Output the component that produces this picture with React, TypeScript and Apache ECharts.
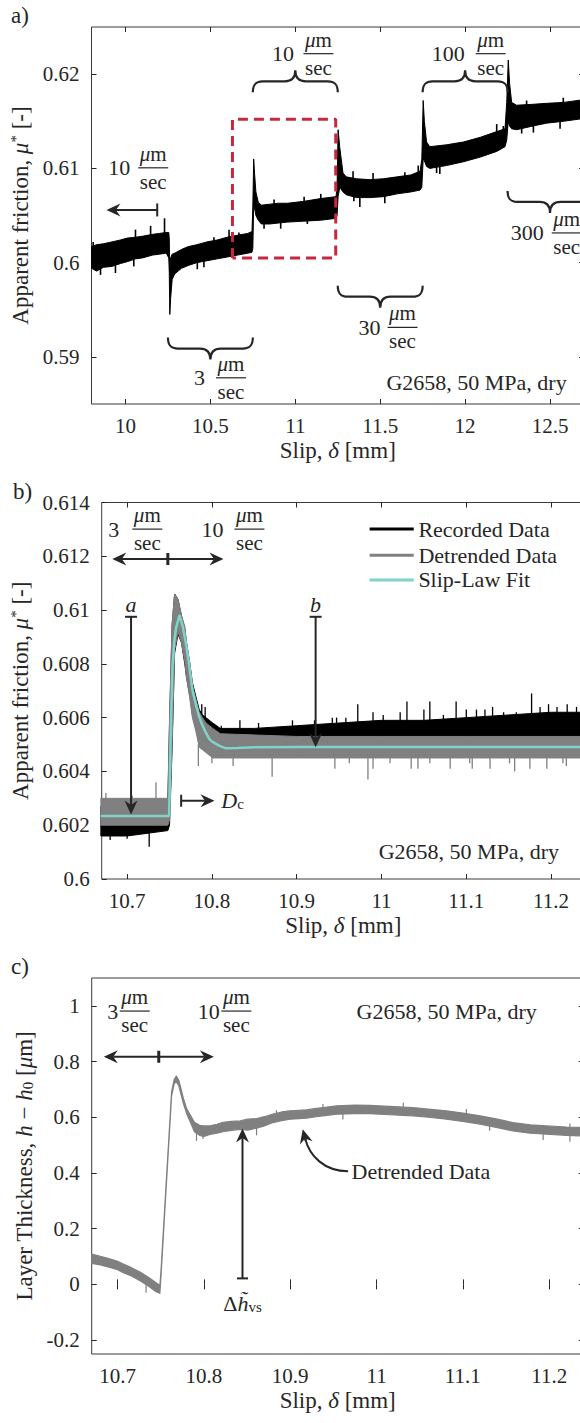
import { useEffect, useRef } from 'react';
import * as echarts from 'echarts';

const FONT = 'Liberation Serif, Times New Roman, serif';
const INK = '#262626';
const FS = 21;
const FN = 23;
const FA = 22;
const GRAY = '#808080';
const CYAN = '#7fd3c8';
const RED = '#c8283c';

// ---------- tick labels ----------
const aSlipTicks = [10, 10.5, 11, 11.5, 12, 12.5];
const aMuTicks = [0.59, 0.6, 0.61, 0.62];
const bSlipTicks = [10.7, 10.8, 10.9, 11, 11.1, 11.2];
const bMuTicks = [0.6, 0.602, 0.604, 0.606, 0.608, 0.61, 0.612, 0.614];
const cSlipTicks = [10.7, 10.8, 10.9, 11, 11.1, 11.2];
const cThickTicks = [-0.2, 0, 0.2, 0.4, 0.6, 0.8, 1];

// ---------- panel a: recorded friction (noise envelope low / high) ----------
const aSlip = [9.8, 9.83, 9.87, 9.92, 9.97, 10.01, 10.06, 10.1, 10.16, 10.2, 10.24, 10.255, 10.258, 10.261, 10.266, 10.275, 10.29, 10.33, 10.37, 10.42, 10.48, 10.54, 10.6, 10.66, 10.72, 10.745, 10.75, 10.755, 10.76, 10.768, 10.782, 10.8, 10.85, 10.9, 10.955, 11.05, 11.15, 11.24, 11.246, 11.252, 11.262, 11.281, 11.3, 11.36, 11.44, 11.52, 11.6, 11.68, 11.735, 11.745, 11.753, 11.76, 11.773, 11.792, 11.89, 11.99, 12.09, 12.186, 12.235, 12.245, 12.254, 12.262, 12.274, 12.303, 12.4, 12.48, 12.58, 12.7];
const aMuLow = [0.5994, 0.5991, 0.5995, 0.5996, 0.5999, 0.6001, 0.6004, 0.6005, 0.6008, 0.6009, 0.601, 0.6005, 0.599, 0.5945, 0.5962, 0.5982, 0.5988, 0.5994, 0.5997, 0.6, 0.6002, 0.6004, 0.6006, 0.6008, 0.601, 0.6011, 0.6015, 0.606, 0.6058, 0.605, 0.6045, 0.6041, 0.6041, 0.6042, 0.6043, 0.6044, 0.6045, 0.6047, 0.605, 0.607, 0.608, 0.6075, 0.6072, 0.6069, 0.6069, 0.607, 0.6073, 0.6075, 0.6077, 0.608, 0.611, 0.6108, 0.6102, 0.61, 0.6103, 0.6107, 0.6112, 0.6118, 0.6123, 0.613, 0.615, 0.6145, 0.6142, 0.6141, 0.6145, 0.6148, 0.615, 0.6153];
const aMuHigh = [0.6017, 0.6019, 0.602, 0.6022, 0.6024, 0.6026, 0.6027, 0.6028, 0.603, 0.6031, 0.6032, 0.6032, 0.6025, 0.599, 0.6005, 0.6009, 0.601, 0.6014, 0.6017, 0.6019, 0.6022, 0.6024, 0.6027, 0.6029, 0.6031, 0.6033, 0.606, 0.611, 0.6095, 0.6075, 0.6064, 0.6061, 0.6062, 0.6063, 0.6063, 0.6065, 0.6068, 0.607, 0.608, 0.6141, 0.6122, 0.6095, 0.6091, 0.6089, 0.6088, 0.6089, 0.6091, 0.6093, 0.6097, 0.611, 0.6172, 0.615, 0.6128, 0.6123, 0.6125, 0.6128, 0.6133, 0.6139, 0.6142, 0.617, 0.6215, 0.619, 0.617, 0.6167, 0.6168, 0.6169, 0.617, 0.6173];
// individual noise spikes: [slip, from, to]
const aSpikes = [
  [9.81, 0.6012, 0.6022], [10.059, 0.602, 0.6035], [10.148, 0.6022, 0.6039], [10.23, 0.6024, 0.6047], [10.521, 0.6018, 0.6027], [10.61, 0.602, 0.6035], [10.668, 0.6022, 0.6032], [10.875, 0.6055, 0.6067], [11.052, 0.6058, 0.607], [11.15, 0.606, 0.6073], [11.34, 0.6085, 0.6097], [11.458, 0.6082, 0.6095], [11.645, 0.6085, 0.6096], [11.724, 0.6088, 0.6103], [12.186, 0.6132, 0.6147], [12.225, 0.6135, 0.6145], [12.362, 0.616, 0.6172], [12.578, 0.6163, 0.6175],
  [9.853, 0.6, 0.5987], [9.941, 0.6003, 0.5989], [10.049, 0.6008, 0.5996], [10.423, 0.6005, 0.5993], [10.462, 0.6007, 0.5995], [10.816, 0.6048, 0.6036], [10.914, 0.605, 0.6036], [11.071, 0.6052, 0.6041], [11.345, 0.6075, 0.6065], [11.38, 0.6075, 0.6059], [11.527, 0.6076, 0.6063], [11.832, 0.6106, 0.6095], [11.851, 0.6106, 0.6094], [12.333, 0.6148, 0.6137], [12.402, 0.615, 0.6138], [12.559, 0.6153, 0.6142],
];
// zoom window shown in b
const boxSlip = [10.63, 10.63, 11.238, 11.238, 10.63];
const boxMu = [0.6005, 0.6152, 0.6152, 0.6005, 0.6005];

// ---------- panel b ----------
const bRecSlip = [10.669, 10.7, 10.748, 10.75, 10.753, 10.756, 10.76, 10.764, 10.768, 10.77, 10.774, 10.777, 10.781, 10.785, 10.789, 10.793, 10.801, 10.81, 10.85, 10.9, 10.95, 11.0, 11.05, 11.1, 11.15, 11.2, 11.24];
const bRecLow = [0.6016, 0.6016, 0.6018, 0.602, 0.6048, 0.6084, 0.6091, 0.6088, 0.608, 0.6075, 0.6068, 0.6061, 0.6056, 0.6051, 0.605, 0.6049, 0.6048, 0.6047, 0.6047, 0.6047, 0.6048, 0.6049, 0.6049, 0.605, 0.605, 0.6051, 0.6051];
const bRecHigh = [0.6027, 0.6027, 0.6029, 0.6058, 0.6094, 0.6106, 0.6104, 0.6098, 0.6093, 0.6088, 0.608, 0.6073, 0.6068, 0.6063, 0.6061, 0.606, 0.6058, 0.6056, 0.6056, 0.6057, 0.6058, 0.6059, 0.6059, 0.606, 0.6061, 0.6062, 0.6062];
const bRecSpikes = [
  [10.788, 0.6058, 0.6065], [10.792, 0.6058, 0.6064], [10.811, 0.6054, 0.6057], [10.833, 0.6054, 0.6059], [10.855, 0.6054, 0.6058], [10.895, 0.6055, 0.6059], [10.921, 0.6055, 0.6059], [10.942, 0.6056, 0.606], [10.947, 0.6056, 0.606], [10.958, 0.6056, 0.606],
  [10.972, 0.6056, 0.6065], [10.99, 0.6057, 0.6062], [11.002, 0.6057, 0.6061], [11.022, 0.6057, 0.6062], [11.03, 0.6057, 0.6066], [11.05, 0.6057, 0.6063], [11.057, 0.6057, 0.6066], [11.073, 0.6058, 0.6061], [11.088, 0.6058, 0.6066], [11.1, 0.6058, 0.6063], [11.112, 0.6058, 0.6063], [11.122, 0.6059, 0.6063], [11.131, 0.6059, 0.6064], [11.144, 0.6059, 0.6062], [11.159, 0.6059, 0.6062], [11.177, 0.6059, 0.6069], [11.187, 0.606, 0.6064], [11.197, 0.606, 0.6065], [11.207, 0.606, 0.6064], [11.219, 0.606, 0.6065], [11.23, 0.606, 0.6064],
  [10.68, 0.6018, 0.60145], [10.7, 0.6018, 0.6015], [10.726, 0.6018, 0.6012],
];
const bDetSlip = [10.669, 10.748, 10.75, 10.753, 10.756, 10.76, 10.764, 10.768, 10.77, 10.774, 10.777, 10.781, 10.785, 10.789, 10.793, 10.801, 10.81, 10.9, 11.0, 11.1, 11.24];
const bDetLow = [0.602, 0.602, 0.6022, 0.605, 0.6085, 0.6092, 0.6088, 0.6081, 0.6075, 0.6067, 0.606, 0.6055, 0.6049, 0.6048, 0.6047, 0.6045, 0.6045, 0.6045, 0.6045, 0.6045, 0.6045];
const bDetHigh = [0.603, 0.603, 0.606, 0.6095, 0.6106, 0.6104, 0.6098, 0.6094, 0.6088, 0.608, 0.6072, 0.6067, 0.6062, 0.606, 0.6058, 0.6056, 0.6054, 0.6053, 0.6053, 0.6053, 0.6053];
const bDetSpikes = [
  [10.675, 0.6028, 0.6032], [10.706, 0.6028, 0.6031], [10.734, 0.6028, 0.6036],
  [10.784, 0.605, 0.6042], [10.8, 0.6047, 0.6043], [10.825, 0.6047, 0.6042], [10.871, 0.6047, 0.6038], [10.945, 0.6047, 0.6041], [10.962, 0.6047, 0.6043], [10.984, 0.6047, 0.6037], [10.99, 0.6047, 0.6041], [11.01, 0.6047, 0.6043], [11.035, 0.6047, 0.6041], [11.043, 0.6047, 0.6041], [11.057, 0.6047, 0.6043], [11.081, 0.6047, 0.6041], [11.104, 0.6047, 0.6043], [11.107, 0.6047, 0.6041], [11.128, 0.6047, 0.6041], [11.151, 0.6047, 0.6043], [11.157, 0.6047, 0.604], [11.175, 0.6047, 0.6041], [11.195, 0.6047, 0.6041], [11.214, 0.6047, 0.6043], [11.218, 0.6047, 0.6042],
];
const bFitSlip = [10.669, 10.7495, 10.7515, 10.7535, 10.7555, 10.7575, 10.7617, 10.7655, 10.7693, 10.773, 10.777, 10.781, 10.785, 10.789, 10.793, 10.797, 10.8007, 10.809, 10.8166, 10.83, 10.85, 10.9, 11.24];
const bFitMu = [0.60234, 0.60234, 0.6055, 0.6079, 0.6088, 0.6093, 0.60981, 0.6094, 0.60877, 0.608, 0.60703, 0.6065, 0.60603, 0.6057, 0.60543, 0.6052, 0.6051, 0.60495, 0.60486, 0.60487, 0.6049, 0.60491, 0.60491];

// ---------- panel c: detrended layer thickness (noise envelope) ----------
const cSlip = [10.67, 10.68, 10.691, 10.7, 10.706, 10.716, 10.726, 10.736, 10.745, 10.749, 10.7505, 10.7625, 10.7655, 10.768, 10.771, 10.776, 10.78, 10.784, 10.789, 10.795, 10.8, 10.807, 10.815, 10.822, 10.832, 10.842, 10.851, 10.861, 10.87, 10.88, 10.89, 10.9, 10.91, 10.919, 10.928, 10.938, 10.954, 10.975, 10.992, 11.015, 11.042, 11.06, 11.081, 11.1, 11.12, 11.14, 11.158, 11.178, 11.197, 11.22, 11.24];
const cThickLow = [0.075, 0.07, 0.061, 0.053, 0.043, 0.03, 0.013, -0.007, -0.027, -0.032, 0.04, 0.675, 0.72, 0.728, 0.712, 0.652, 0.613, 0.585, 0.548, 0.535, 0.531, 0.538, 0.543, 0.548, 0.553, 0.556, 0.554, 0.561, 0.569, 0.581, 0.588, 0.593, 0.595, 0.597, 0.601, 0.605, 0.611, 0.613, 0.613, 0.609, 0.605, 0.6, 0.593, 0.585, 0.575, 0.563, 0.551, 0.543, 0.539, 0.535, 0.533];
const cThickHigh = [0.109, 0.101, 0.092, 0.083, 0.074, 0.06, 0.044, 0.025, 0.005, -0.004, 0.06, 0.69, 0.735, 0.748, 0.732, 0.67, 0.631, 0.609, 0.582, 0.571, 0.569, 0.569, 0.575, 0.582, 0.585, 0.587, 0.593, 0.595, 0.602, 0.611, 0.619, 0.623, 0.625, 0.627, 0.631, 0.635, 0.641, 0.644, 0.643, 0.639, 0.635, 0.629, 0.623, 0.615, 0.605, 0.593, 0.581, 0.573, 0.569, 0.565, 0.563];
const cSpikes = [
  [10.884, 0.605, 0.625], [10.938, 0.625, 0.648], [11.031, 0.632, 0.652], [11.104, 0.61, 0.63], [11.224, 0.56, 0.578],
  [10.733, 0.0, -0.03], [10.7914, 0.545, 0.515], [10.799, 0.54, 0.522], [10.861, 0.565, 0.535], [10.961, 0.615, 0.592], [11.131, 0.585, 0.552], [11.193, 0.54, 0.518], [11.224, 0.54, 0.512],
];

// ---------- annotation anchors (data units) ----------
const aSpeeds = [
  { slip: 10.075, mu: 0.61006, num: '10', gap: 8 },
  { slip: 11.048, mu: 0.62217, num: '10', gap: 9.5 },
  { slip: 12.062, mu: 0.62217, num: '100', gap: 11 },
  { slip: 10.533, mu: 0.58778, num: '3', gap: 11 },
  { slip: 11.543, mu: 0.59313, num: '30', gap: 7 },
  { slip: 12.51, mu: 0.60315, num: '300', gap: 8 },
];
const aBraces = [
  { from: 10.75, to: 11.25, tip: 0.6204, up: true },
  { from: 11.75, to: 12.25, tip: 0.6204, up: true },
  { from: 10.25, to: 10.75, tip: 0.58971, up: false },
  { from: 11.25, to: 11.75, tip: 0.59522, up: false },
  { from: 12.25, to: 12.75, tip: 0.60527, up: false },
];

const LAYOUT = [
  { left: 91.5, top: 27, width: 492.5, height: 377, xMin: 9.8, xMax: 12.7, yMin: 0.585, yMax: 0.625, yGap: 56, xT: aSlipTicks, yT: aMuTicks, yName: 'Apparent friction, {i|μ}{sup|*} [-]' },
  { left: 101.7, top: 502.5, width: 483.3, height: 376.5, xMin: 10.67, xMax: 11.24, yMin: 0.6, yMax: 0.614, yGap: 69, xT: bSlipTicks, yT: bMuTicks, yName: 'Apparent friction, {i|μ}{sup|*} [-]' },
  { left: 91.7, top: 978, width: 492, height: 376, xMin: 10.67, xMax: 11.24, yMin: -0.25, yMax: 1.1, yGap: 53, xT: cSlipTicks, yT: cThickTicks, yName: 'Layer Thickness, {i|h} \u2212 {i|h}{sub|0} [{i|μ}m]' },
];

const fmt = (v: number) => String(parseFloat(Number(v).toFixed(4)));

const RICH_OPT = {
  i: { fontStyle: 'italic', fontFamily: FONT, fontSize: FN, color: INK },
  sup: { fontFamily: FONT, fontSize: 15, color: INK, verticalAlign: 'top' },
  sub: { fontFamily: FONT, fontSize: 15, color: INK, verticalAlign: 'bottom' },
};
const richG = (fs: number) => ({
  i: { fontStyle: 'italic', fontFamily: FONT, fontSize: fs, fill: INK },
  sup: { fontFamily: FONT, fontSize: 14, fill: INK, verticalAlign: 'top' },
  sub: { fontFamily: FONT, fontSize: 15, fill: INK, verticalAlign: 'bottom' },
});

const BRACE_W = 85;
const BRACE_D = 'M0,22 C0,14 3,11 10,11 L32,11 C38.5,11 42.5,8 42.5,0 C42.5,8 46.5,11 53,11 L75,11 C82,11 85,14 85,22';
let braceRegistered = false;
function ensureBrace() {
  if (braceRegistered) return;
  echarts.graphic.registerShape('brace', echarts.graphic.extendPath(BRACE_D, {}) as any);
  braceRegistered = true;
}

function band(g: number, xs: number[], lo: number[], hi: number[], color: string, z: number, sw: number) {
  return {
    type: 'custom', xAxisIndex: 2 * g, yAxisIndex: 2 * g, z, silent: true,
    data: [[xs[0], lo[0]]],
    renderItem: (params: any, api: any) => {
      if (params.dataIndex !== 0) return null;
      const pts: number[][] = [];
      for (let i = 0; i < xs.length; i++) pts.push(api.coord([xs[i], hi[i]]));
      for (let i = xs.length - 1; i >= 0; i--) pts.push(api.coord([xs[i], lo[i]]));
      return { type: 'polygon', shape: { points: pts }, style: { fill: color, stroke: color, lineWidth: sw, lineJoin: 'round' } };
    },
  };
}

function spikes(g: number, list: number[][], color: string, z: number, w: number) {
  return {
    type: 'custom', xAxisIndex: 2 * g, yAxisIndex: 2 * g, z, silent: true,
    data: list,
    encode: { x: 0, y: [1, 2] },
    renderItem: (params: any, api: any) => {
      const a = api.coord([api.value(0), api.value(1)]);
      const b = api.coord([api.value(0), api.value(2)]);
      return { type: 'line', shape: { x1: a[0], y1: a[1], x2: b[0], y2: b[1] }, style: { stroke: color, lineWidth: w } };
    },
  };
}

function buildOption() {
  const grid: any[] = [];
  const xAxis: any[] = [];
  const yAxis: any[] = [];
  LAYOUT.forEach((L, g) => {
    grid.push({ left: L.left, top: L.top, width: L.width, height: L.height, show: true, borderColor: '#3a3a3a', borderWidth: 1, backgroundColor: 'transparent', containLabel: false, outerBoundsMode: 'none' });
    const tick = (vals: number[]) => ({ show: true, inside: true, length: 5, customValues: vals, lineStyle: { color: INK, width: 1 } });
    const nts = { fontFamily: FONT, fontSize: FN, color: INK, rich: RICH_OPT };
    xAxis.push({
      type: 'value', gridIndex: g, position: 'bottom', min: L.xMin, max: L.xMax,
      axisLine: { show: false }, splitLine: { show: false }, axisTick: tick(L.xT),
      axisLabel: { show: true, customValues: L.xT, formatter: fmt, margin: 11, fontFamily: FONT, fontSize: FS, color: INK },
      name: 'Slip, {i|δ} [mm]', nameLocation: 'middle', nameGap: 35, nameTextStyle: nts,
    });
    xAxis.push({
      type: 'value', gridIndex: g, position: 'top', min: L.xMin, max: L.xMax,
      axisLine: { show: false }, splitLine: { show: false }, axisTick: tick(L.xT), axisLabel: { show: false },
    });
    yAxis.push({
      type: 'value', gridIndex: g, position: 'left', min: L.yMin, max: L.yMax,
      axisLine: { show: false }, splitLine: { show: false }, axisTick: tick(L.yT),
      axisLabel: { show: true, customValues: L.yT, formatter: fmt, margin: 12, fontFamily: FONT, fontSize: FS, color: INK },
      name: L.yName, nameLocation: 'middle', nameGap: L.yGap, nameTextStyle: nts,
    });
    yAxis.push({
      type: 'value', gridIndex: g, position: 'right', min: L.yMin, max: L.yMax,
      axisLine: { show: false }, splitLine: { show: false }, axisTick: tick(L.yT), axisLabel: { show: false },
    });
  });

  const series: any[] = [
    band(0, aSlip, aMuLow, aMuHigh, '#000000', 2, 1),
    spikes(0, aSpikes, '#000000', 2, 1.6),
    {
      type: 'line', xAxisIndex: 0, yAxisIndex: 0, z: 5, silent: true, symbol: 'none',
      data: boxSlip.map((x, i) => [x, boxMu[i]]),
      lineStyle: { color: RED, width: 3, type: [10, 6] },
    },
    band(1, bRecSlip, bRecLow, bRecHigh, '#000000', 2, 1),
    spikes(1, bRecSpikes, '#000000', 2, 1.3),
    band(1, bDetSlip, bDetLow, bDetHigh, GRAY, 3, 1),
    spikes(1, bDetSpikes, GRAY, 3, 1.3),
    {
      type: 'line', xAxisIndex: 2, yAxisIndex: 2, z: 4, silent: true, symbol: 'none',
      data: bFitSlip.map((x, i) => [x, bFitMu[i]]),
      lineStyle: { color: CYAN, width: 2.5 },
    },
    band(2, cSlip, cThickLow, cThickHigh, GRAY, 2, 1.2),
    spikes(2, cSpikes, GRAY, 2, 1.2),
  ];

  return { animation: false, backgroundColor: '#ffffff', textStyle: { fontFamily: FONT }, grid, xAxis, yAxis, series };
}

type Pt = [number, number];

function buildGraphics(P: (g: number, x: number, y: number) => Pt) {
  const els: any[] = [];
  const T = (text: string, x: number, y: number, align = 'left', fs = FS) => {
    els.push({ type: 'text', x, y, silent: true, z: 100, style: { text, fill: INK, fontFamily: FONT, fontSize: fs, align, verticalAlign: 'middle', rich: richG(fs) } });
  };
  const Ln = (a: Pt, b: Pt, w = 2) => {
    els.push({ type: 'line', silent: true, z: 100, shape: { x1: a[0], y1: a[1], x2: b[0], y2: b[1] }, style: { stroke: INK, lineWidth: w } });
  };
  const AL = 14, AW = 6.5, AN = 4.5;
  const arrow = (from: Pt, tip: Pt, w = 2) => {
    const dx = tip[0] - from[0], dy = tip[1] - from[1];
    const len = Math.hypot(dx, dy);
    const ux = dx / len, uy = dy / len, px = -uy, py = ux;
    Ln(from, [tip[0] - ux * (AL - AN), tip[1] - uy * (AL - AN)], w);
    els.push({
      type: 'polygon', silent: true, z: 100,
      shape: { points: [tip, [tip[0] - ux * AL + px * AW, tip[1] - uy * AL + py * AW], [tip[0] - ux * (AL - AN), tip[1] - uy * (AL - AN)], [tip[0] - ux * AL - px * AW, tip[1] - uy * AL - py * AW]] },
      style: { fill: INK },
    });
  };
  const frac = (p: Pt, num: string, gap: number) => {
    const [x0, y0] = p; const w = 30;
    T(num, x0 - gap, y0, 'right', FA);
    T('{i|μ}m', x0 + w / 2, y0 - 14, 'center', FS);
    T('sec', x0 + w / 2, y0 + 14, 'center', FS);
    Ln([x0, y0], [x0 + w, y0], 1.2);
  };
  const doubleArrow = (g: number, y: number, x0: number, x1: number, xm: number) => {
    const m = P(g, xm, y);
    arrow(m, P(g, x0, y));
    arrow(m, P(g, x1, y));
    els.push({ type: 'rect', silent: true, z: 101, shape: { x: m[0] - 1.5, y: m[1] - 6, width: 3, height: 12 }, style: { fill: INK } });
  };

  // panel letters
  T('a)', 11, 15, 'left', 23);
  T('b)', 13, 491, 'left', 23);
  T('c)', 11, 966, 'left', 23);

  // ---- panel a ----
  aSpeeds.forEach((s) => frac(P(0, s.slip, s.mu), s.num, s.gap));
  aBraces.forEach((b) => {
    const l = P(0, b.from, b.tip), r = P(0, b.to, b.tip);
    els.push({ type: 'brace', silent: true, z: 100, x: l[0], y: l[1], scaleX: (r[0] - l[0]) / BRACE_W, scaleY: b.up ? 1 : -1, style: { stroke: INK, fill: 'none', lineWidth: 2.2 } });
  });
  {
    const bar = P(0, 10.187, 0.60559), tip = P(0, 9.888, 0.60559);
    arrow(bar, tip);
    Ln([bar[0], bar[1] - 6.5], [bar[0], bar[1] + 6.5], 2);
  }
  {
    const p = P(0, 12.598, 0.58728);
    T('G2658, 50 MPa, dry', p[0], p[1], 'right', FA);
  }

  // ---- panel b ----
  const legend = [
    { label: 'Recorded Data', color: '#000000', mu: 0.61301 },
    { label: 'Detrended Data', color: GRAY, mu: 0.61204 },
    { label: 'Slip-Law Fit', color: CYAN, mu: 0.61112 },
  ];
  legend.forEach((l) => {
    const a = P(1, 10.986, l.mu), b = P(1, 11.038, l.mu), t = P(1, 11.0435, l.mu);
    els.push({ type: 'line', silent: true, z: 100, shape: { x1: a[0], y1: a[1], x2: b[0], y2: b[1] }, style: { stroke: l.color, lineWidth: 3 } });
    T(l.label, t[0], t[1], 'left', FA);
  });
  frac(P(1, 10.7061, 0.61301), '3', 13);
  frac(P(1, 10.8266, 0.61301), '10', 11);
  doubleArrow(1, 0.6119, 10.6825, 10.8136, 10.748);
  [{ s: 10.7046, tip: 0.6024, lab: 'a' }, { s: 10.9223, tip: 0.6049, lab: 'b' }].forEach((q) => {
    const top = P(1, q.s, 0.60975), tip = P(1, q.s, q.tip);
    arrow(top, tip);
    Ln([top[0] - 6, top[1]], [top[0] + 6, top[1]], 2);
    T('{i|' + q.lab + '}', top[0], top[1] - 12, 'center', FA);
  });
  {
    const bar = P(1, 10.7637, 0.60291), tip = P(1, 10.803, 0.60291);
    arrow(bar, tip);
    Ln([bar[0], bar[1] - 6], [bar[0], bar[1] + 6], 2);
    const t = P(1, 10.811, 0.60291);
    T('{i|D}{sub|c}', t[0], t[1], 'left', FA);
  }
  {
    const p = P(1, 11.2093, 0.60101);
    T('G2658, 50 MPa, dry', p[0], p[1], 'right', FA);
  }

  // ---- panel c ----
  frac(P(2, 10.7025, 0.9813), '3', 1.5);
  frac(P(2, 10.8202, 0.9813), '10', 1.5);
  doubleArrow(2, 0.8172, 10.684, 10.8115, 10.7477);
  {
    const bot = P(2, 10.8447, 0.0215), tip = P(2, 10.8447, 0.56);
    arrow(bot, tip);
    Ln([bot[0] - 5.5, bot[1]], [bot[0] + 5.5, bot[1]], 2);
    const lab = P(2, 10.8447, -0.0675);
    T('Δ{i|h̃}{sub|vs}', lab[0], lab[1], 'center', FA);
  }
  {
    const start = P(2, 10.967, 0.4063), tip = P(2, 10.9145, 0.557);
    const ux = -0.25, uy = -0.97;
    const end: Pt = [tip[0] - ux * 9.5, tip[1] - uy * 9.5];
    els.push({ type: 'bezierCurve', silent: true, z: 100, shape: { x1: start[0], y1: start[1], cpx1: start[0] - 24, cpy1: start[1], cpx2: end[0] - ux * 18, cpy2: end[1] - uy * 18, x2: end[0], y2: end[1] }, style: { stroke: INK, lineWidth: 2, fill: 'none' } });
    arrow([tip[0] - ux * 12, tip[1] - uy * 12], tip);
    const t = P(2, 10.971, 0.4043);
    T('Detrended Data', t[0], t[1], 'left', FA);
  }
  {
    const p = P(2, 11.1857, 0.9788);
    T('G2658, 50 MPa, dry', p[0], p[1], 'right', FA);
  }
  return els;
}

export default function App() {
  const ref = useRef<HTMLDivElement>(null);
  useEffect(() => {
    const el = ref.current!;
    ensureBrace();
    const chart = echarts.init(el, undefined, { renderer: 'svg' });
    chart.setOption(buildOption() as any);
    const P = (g: number, x: number, y: number): Pt =>
      chart.convertToPixel({ xAxisIndex: 2 * g, yAxisIndex: 2 * g } as any, [x, y]) as unknown as Pt;
    chart.setOption({ graphic: buildGraphics(P) } as any);
    return () => chart.dispose();
  }, []);
  return <div ref={ref} style={{ position: 'absolute', left: 0, top: 0, width: 580, height: 1423, background: '#fff' }} />;
}
